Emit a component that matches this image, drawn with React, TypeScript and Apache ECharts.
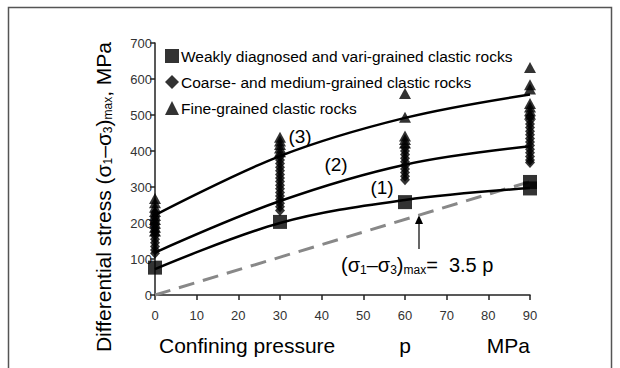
import React, { useEffect, useRef } from "react";
import * as echarts from "echarts";

const pressures = [0, 30, 60, 90];
const curveWeak = [72, 200, 264, 297];
const curveCoarse = [118, 261, 362, 413];
const curveFine = [222, 386, 492, 557];
const limitLine = [[0, 0], [90, 315]];

const weakP = [0, 30, 60, 90, 90];
const weakV = [76, 203, 258, 314, 296];

const coarseP0 = [228, 216, 205, 195, 185, 175, 165, 155, 145, 135, 125, 116];
const coarseP30 = [385, 375, 365, 355, 345, 335, 325, 315, 305, 295, 285, 275, 265, 255, 245, 235];
const coarseP60 = [410, 400, 390, 380, 370, 360, 350, 340, 330, 320];
const coarseP90 = [495, 485, 475, 465, 455, 445, 435, 425, 415, 405, 395, 385, 375, 368];

const fineP0 = [268, 256, 244, 232, 221, 210, 199, 188, 178];
const fineP30 = [438, 428, 418, 408, 398];
const fineP60 = [560, 494, 442, 432, 422];
const fineP90 = [632, 584, 572, 532, 522, 512, 502];

const xTicks = { min: 0, max: 90, interval: 10 };
const yTicks = { min: 0, max: 700, interval: 100 };

const seriesNames = [
  "Weakly diagnosed and vari-grained clastic rocks",
  "Coarse- and medium-grained clastic rocks",
  "Fine-grained clastic rocks",
];

const FONT = "'Liberation Sans Narrow', 'Liberation Sans', Arial, sans-serif";
const AXFONT = "'Liberation Sans', Arial, sans-serif";

function col(p: number, vals: number[]) {
  return vals.map((v) => [p, v]);
}

export default function App() {
  const ref = useRef<HTMLDivElement>(null);
  useEffect(() => {
    document.body.style.margin = "0";
    const chart = echarts.init(ref.current!, null, { renderer: "svg" });
    const curve = (vals: number[]) => ({
      type: "line",
      data: pressures.map((p, i) => [p, vals[i]]),
      smooth: 0.35,
      showSymbol: false,
      symbol: "none",
      lineStyle: { color: "#000", width: 2.5 },
      z: 3,
      silent: true,
    });
    const sub = { fontSize: 12, fontFamily: AXFONT, verticalAlign: "bottom", padding: [10, 0, 0, 0] };
    chart.setOption({
      animation: false,
      backgroundColor: "#fff",
      grid: { left: 155, right: 90, top: 43, bottom: 73 },
      legend: {
        orient: "vertical",
        left: 160,
        top: 43,
        itemGap: 10,
        itemWidth: 14,
        itemHeight: 14,
        data: seriesNames,
        textStyle: { fontSize: 15.5, fontFamily: FONT, color: "#000", padding: [0, 0, 0, -3] },
      },
      xAxis: {
        type: "value",
        ...xTicks,
        axisLine: { lineStyle: { color: "#222", width: 1.5 } },
        axisTick: { show: true, length: 5, lineStyle: { color: "#222", width: 1.5 } },
        axisLabel: { fontSize: 13, color: "#333", fontFamily: AXFONT, margin: 14 },
        splitLine: { show: false },
      },
      yAxis: {
        type: "value",
        ...yTicks,
        axisLine: { show: true, lineStyle: { color: "#222", width: 1.5 } },
        axisTick: { show: true, length: 5, lineStyle: { color: "#222", width: 1.5 } },
        axisLabel: { fontSize: 13, color: "#333", fontFamily: AXFONT, margin: 3 },
        splitLine: { show: false },
      },
      series: [
        {
          type: "line",
          data: limitLine,
          showSymbol: false,
          symbol: "none",
          lineStyle: { color: "#888", width: 3, type: [16, 9] },
          z: 2,
          silent: true,
        },
        curve(curveWeak),
        curve(curveCoarse),
        curve(curveFine),
        {
          name: seriesNames[2],
          type: "scatter",
          symbol: "triangle",
          symbolSize: [12, 11],
          itemStyle: { color: "#000" },
          data: [
            ...col(0, fineP0),
            ...col(30, fineP30),
            ...col(60, fineP60),
            ...col(90, fineP90),
          ],
          z: 4,
        },
        {
          name: seriesNames[1],
          type: "scatter",
          symbol: "diamond",
          symbolSize: [10, 11],
          itemStyle: { color: "#000" },
          data: [
            ...col(0, coarseP0),
            ...col(30, coarseP30),
            ...col(60, coarseP60),
            ...col(90, coarseP90),
          ],
          z: 4,
        },
        {
          name: seriesNames[0],
          type: "scatter",
          symbol: "rect",
          symbolSize: 14,
          itemStyle: { color: "#000" },
          data: weakP.map((p, i) => [p, weakV[i]]),
          z: 5,
        },
      ],
      graphic: [
        {
          type: "rect",
          shape: { x: 8.5, y: 7.5, width: 603, height: 400 },
          style: { fill: "none", stroke: "#555", lineWidth: 1.5 },
          silent: true,
        },
        {
          type: "text",
          x: 103,
          y: 197,
          rotation: Math.PI / 2,
          style: {
            text: "Differential stress (σ{s|1}–σ{s|3}){s|max}, MPa",
            fontSize: 21,
            fontFamily: AXFONT,
            fill: "#000",
            align: "center",
            verticalAlign: "middle",
            rich: { s: sub },
          },
        },
        {
          type: "text",
          x: 159,
          y: 345,
          style: { text: "Confining pressure", fontSize: 21, fontFamily: AXFONT, fill: "#000", align: "left", verticalAlign: "middle" },
        },
        {
          type: "text",
          x: 405,
          y: 345,
          style: { text: "p", fontSize: 21, fontFamily: AXFONT, fill: "#000", align: "center", verticalAlign: "middle" },
        },
        {
          type: "text",
          x: 530,
          y: 345,
          style: { text: "MPa", fontSize: 21, fontFamily: AXFONT, fill: "#000", align: "right", verticalAlign: "middle" },
        },
        {
          type: "text",
          x: 300,
          y: 136,
          style: { text: "(3)", fontSize: 19, fontFamily: AXFONT, fill: "#000", align: "center", verticalAlign: "middle" },
        },
        {
          type: "text",
          x: 336,
          y: 164,
          style: { text: "(2)", fontSize: 19, fontFamily: AXFONT, fill: "#000", align: "center", verticalAlign: "middle" },
        },
        {
          type: "text",
          x: 382,
          y: 187,
          style: { text: "(1)", fontSize: 19, fontFamily: AXFONT, fill: "#000", align: "center", verticalAlign: "middle" },
        },
        {
          type: "text",
          x: 341,
          y: 265,
          style: {
            text: "(σ{s|1}–σ{s|3}){s|max}=  3.5 p",
            fontSize: 20,
            fontFamily: AXFONT,
            fill: "#000",
            align: "left",
            verticalAlign: "middle",
            rich: { s: sub },
          },
        },
        {
          type: "line",
          shape: { x1: 419, y1: 249, x2: 419, y2: 222 },
          style: { stroke: "#000", lineWidth: 1.2 },
        },
        {
          type: "polygon",
          shape: { points: [[419, 215], [415, 224], [423, 224]] },
          style: { fill: "#000" },
        },
      ],
    });
    return () => chart.dispose();
  }, []);
  return <div ref={ref} style={{ width: 620, height: 368 }} />;
}
